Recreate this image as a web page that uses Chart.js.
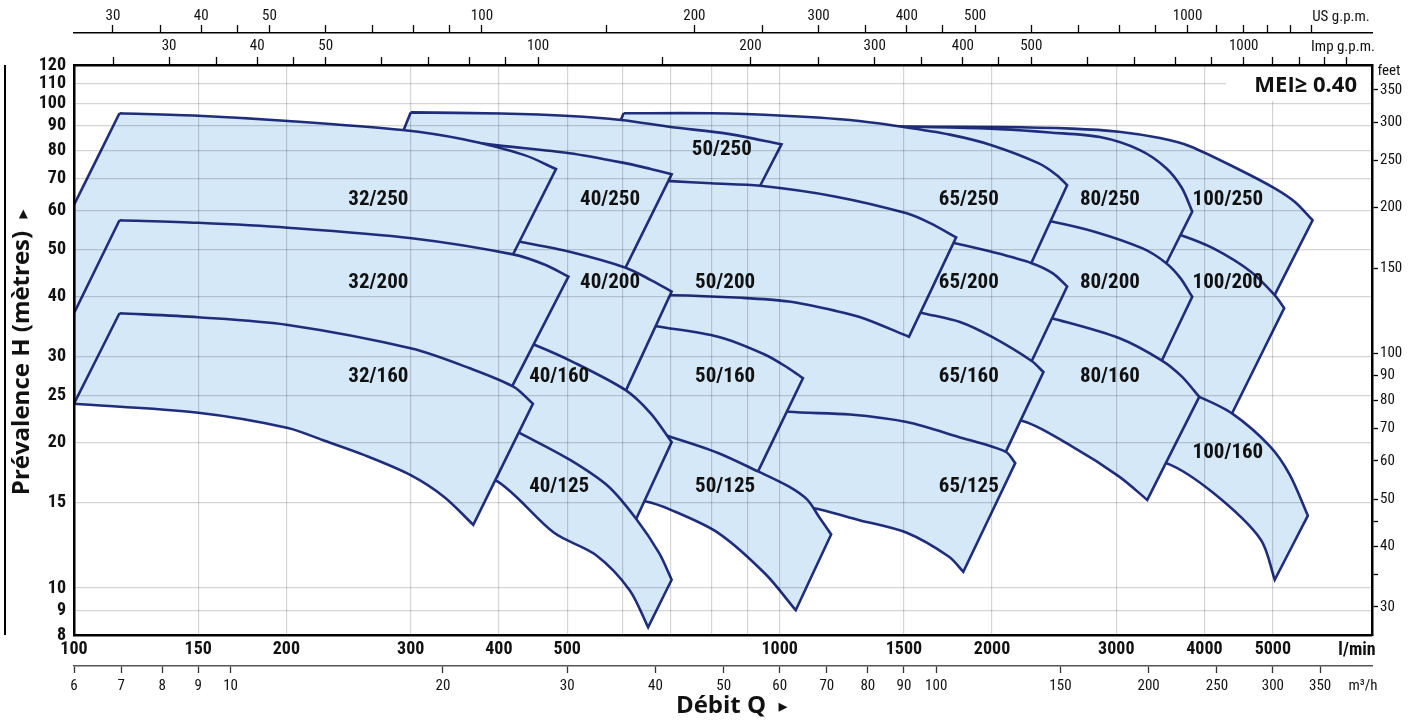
<!DOCTYPE html>
<html>
<head>
<meta charset="utf-8">
<script src="https://cdn.jsdelivr.net/npm/chart.js@4.4.1/dist/chart.umd.min.js"></script>
<style>
  html, body { margin: 0; padding: 0; background: #fff; }
  #wrap { width: 1422px; height: 724px; position: relative; }
</style>
</head>
<body>
<div id="wrap"><canvas id="pumpChart"></canvas></div>
<script>
// flow Q in l/min, head H in metres
const FLOW_MIN = 100, FLOW_MAX = 6910;
const HEAD_MIN = 8, HEAD_MAX = 120;

const flowTicks = [100, 150, 200, 300, 400, 500, 600, 700, 800, 900, 1000, 1500, 2000, 3000, 4000, 5000];
const flowLabels = [100, 150, 200, 300, 400, 500, 1000, 1500, 2000, 3000, 4000, 5000];
const headTicks = [8, 9, 10, 15, 20, 25, 30, 40, 50, 60, 70, 80, 90, 100, 110, 120];
const usGpmTicks = [30, 35, 40, 45, 50, 60, 70, 80, 90, 100, 150, 200, 250, 300, 350, 400, 450, 500, 600, 700, 800, 900, 1000, 1100, 1200, 1300, 1400, 1500];
const impGpmTicks = [25, 30, 35, 40, 45, 50, 60, 70, 80, 90, 100, 150, 200, 250, 300, 350, 400, 450, 500, 600, 700, 800, 900, 1000, 1100, 1200, 1300, 1400];
const gpmLabels = [30, 40, 50, 100, 200, 300, 400, 500, 1000];
const m3hTicks = [6, 7, 8, 9, 10, 20, 30, 40, 50, 60, 70, 80, 90, 100, 150, 200, 250, 300, 350];
const feetTicks = [30, 35, 40, 45, 50, 60, 70, 80, 90, 100, 150, 200, 250, 300, 350];
const feetLabels = [30, 40, 50, 60, 70, 80, 90, 100, 150, 200, 250, 300, 350];

// each pump: max impeller curve and min impeller curve, [Q, H], left to right
const max32_160 = [[116,36.9],[150,36.2],[201,34.9],[301,31.2],[364,28.4],[420,26.0],[447,24.0]];
const min32_160 = [[100,24.0],[150,23.0],[201,21.4],[225,20.2],[258,18.8],[300,17.1],[335,15.4],[368,13.5]];
const max32_200 = [[116,57.4],[150,56.7],[201,55.4],[301,52.7],[419,48.8],[466,46.4],[502,43.9]];
const min32_200 = [[100,24.0],[150,23.9],[201,22.0],[300,18.8],[363,17.5]];
const max32_250 = [[116,95.4],[150,94.3],[201,92.0],[292,88.1],[356,84.3],[435,78.2],[482,73.2]];
const min32_250 = [[100,36.9],[150,36.1],[201,34.7],[301,32.8],[364,32.5]];
// where the left edge meets the Q = 100 border
const edge32_200 = [[100,36.9]];
const edge32_250 = [[100,61.7]];

const max40_125 = [[376,23.1],[428,20.9],[504,18.4],[572,16.2],[626,13.9],[675,11.8],[703,10.4]];
const min40_125 = [[342,17.5],[398,16.6],[479,13.0],[549,11.7],[613,9.9],[651,8.3]];
const max40_160 = [[429,32.5],[451,31.7],[504,29.5],[605,25.6],[657,22.9],[703,20.0]];
const min40_160 = [[364,20.2],[401,17.5],[488,15.2],[604,12.4]];
const max40_200 = [[389,53.2],[429,51.8],[504,49.4],[605,45.8],[657,43.2],[703,40.9]];
const min40_200 = [[312,28.2],[429,26.9],[488,24.4],[579,22.2]];
const max40_250 = [[355,83.6],[401,81.8],[504,78.9],[606,75.2],[655,73.3],[703,71.4]];
const min40_250 = [[292,47.1],[341,46.4],[429,44.2],[574,39.3]];

const max50_125 = [[655,21.0],[701,20.5],[818,19.0],[932,17.4],[1030,16.2],[1095,15.2],[1138,14.0],[1183,12.9]];
const min50_125 = [[586,15.2],[644,15.1],[701,14.5],[818,13.0],[954,10.7],[1054,9.0]];
const max50_160 = [[634,35.2],[669,34.7],[818,33.0],[954,30.3],[1030,28.4],[1079,27.1]];
const min50_160 = [[500,17.5],[655,17.5],[771,16.6],[893,15.3]];
const max50_200 = [[634,69.5],[701,69.1],[800,68.4],[939,67.6],[1202,64.2],[1514,59.3],[1634,56.6],[1779,52.9]];
const min50_200 = [[526,40.2],[706,40.2],[883,39.7],[1030,39.0],[1202,37.3],[1317,36.0],[1525,33.0]];
const max50_250 = [[300,95.8],[403,95.3],[504,94.2],[596,92.4],[701,89.4],[850,86.4],[1006,82.3]];
const min50_250 = [[271,66.2],[401,65.6],[556,63.2],[722,61.7],[893,58.8]];

const max65_125 = [[969,23.5],[1030,23.1],[1258,22.8],[1514,22.0],[1793,20.5],[2092,19.1],[2157,18.1]];
const min65_125 = [[834,15.2],[1095,14.7],[1298,13.8],[1514,13.0],[1738,11.6],[1821,10.8]];
const max65_160 = [[634,42.4],[771,42.3],[883,42.0],[1068,41.2],[1317,39.7],[1585,37.0],[1801,35.4],[1997,33.0],[2276,29.4],[2365,27.9]];
const min65_160 = [[491,20.2],[771,20.2],[1140,20.2],[1481,19.3],[2018,17.1]];
const max65_200 = [[634,59.7],[771,58.8],[1001,57.4],[1258,55.8],[1514,54.0],[1779,51.4],[1997,49.4],[2276,46.8],[2439,44.6],[2555,41.9]];
const min65_200 = [[523,34.1],[771,31.7],[1258,30.3],[1743,28.2],[2190,26.1]];
const max65_250 = [[601,95.4],[800,95.4],[1014,94.3],[1258,92.4],[1490,89.5],[1743,86.2],[1997,82.0],[2330,75.2],[2471,71.1],[2555,67.8]];
const min65_250 = [[499,49.8],[771,48.6],[1258,47.5],[1743,45.3],[2190,41.6]];

const max80_160 = [[1801,39.7],[2052,38.4],[2439,36.0],[3026,32.8],[3477,29.5],[3716,27.3],[3932,24.8]];
const min80_160 = [[1500,23.3],[2190,22.2],[2595,19.6],[3025,17.0],[3319,15.2]];
const max80_200 = [[1743,61.4],[2052,59.7],[2439,57.0],[2802,54.3],[3269,50.2],[3531,46.8],[3698,43.6],[3843,39.9]];
const min80_200 = [[1495,39.3],[2052,35.7],[2844,31.0],[3370,26.7]];
const max80_250 = [[1258,88.9],[1490,89.5],[1743,89.2],[2052,88.5],[2415,87.1],[2844,85.2],[3240,80.1],[3531,73.5],[3716,66.9],[3843,59.8]];
const min80_250 = [[1100,60.2],[1743,58.8],[2415,53.5],[3035,47.1],[3403,42.0]];

const max100_160 = [[3348,27.1],[3932,24.8],[4381,22.9],[4954,19.6],[5287,17.1],[5605,14.1]];
const min100_160 = [[2952,18.8],[3531,18.1],[4119,15.7],[4805,12.6],[5031,10.4]];
const max100_200 = [[2844,58.0],[3348,55.8],[3698,53.5],[4119,50.2],[4659,44.9],[5031,40.2],[5189,37.8]];
const min100_200 = [[2330,32.5],[2844,27.9],[3692,22.8],[4234,20.8]];
const max100_250 = [[1300,89.4],[1490,89.5],[2052,89.4],[2595,88.7],[3026,87.4],[3459,84.8],[3813,81.6],[4448,73.4],[5031,66.8],[5374,62.6],[5692,57.4]];
const min100_250 = [[1154,63.2],[2052,63.2],[2844,58.8],[3692,49.8],[4347,43.2],[4825,35.7]];

// first one is drawn on top
const pumpNames = ['32/160','32/200','32/250','40/125','40/160','40/200','40/250','50/125','50/160','50/200','50/250',
                   '65/125','65/160','65/200','65/250','80/160','80/200','80/250','100/160','100/200','100/250'];
const maxCurves = [max32_160, max32_200, max32_250, max40_125, max40_160, max40_200, max40_250,
                   max50_125, max50_160, max50_200, max50_250, max65_125, max65_160, max65_200, max65_250,
                   max80_160, max80_200, max80_250, max100_160, max100_200, max100_250];
const minCurves = [min32_160, min32_200, min32_250, min40_125, min40_160, min40_200, min40_250,
                   min50_125, min50_160, min50_200, min50_250, min65_125, min65_160, min65_200, min65_250,
                   min80_160, min80_200, min80_250, min100_160, min100_200, min100_250];
const leftEdges = [[], edge32_200, edge32_250];
const labelAnchors = [[270,27.3],[270,42.6],[270,63.2],[487,16.2],[487,27.3],[575,42.6],[575,63.2],[837,16.2],[837,27.3],[837,42.6],[828,80.1],
                      [1854,16.2],[1854,27.3],[1854,42.6],[1854,63.2],[2938,27.3],[2938,42.6],[2938,63.2],[4318,19.0],[4318,42.6],[4318,63.2]];

const NAVY = '#1f2d7b';
const FILL = '#d4e8f7';
const GRID = 'rgba(0,0,0,0.17)';
const COND = "Roboto, 'DejaVu Sans', sans-serif";
const WIDE = "'Open Sans', 'DejaVu Sans', sans-serif";

function fixedTicks(values) {
  return (scale) => { scale.ticks = values.map(v => ({ value: v })); };
}
function labelOnly(list) {
  return (v) => list.includes(v) ? String(v) : '';
}
function fixedSize(prop, px) {
  return (scale) => { scale[prop] = px; };
}
// closed outline; corners repeated so the spline keeps them sharp
function outline(maxCurve, minCurve, edge) {
  const back = minCurve.slice().reverse();
  const first = maxCurve[0], tr = maxCurve[maxCurve.length - 1];
  const pts = [first, ...maxCurve, tr, back[0], ...back, back[back.length - 1]];
  (edge || []).forEach(p => pts.push(p, p));
  pts.push(first, first);
  return pts.map(p => ({ x: p[0], y: p[1] }));
}

const decorations = {
  id: 'decorations',
  afterDraw(chart) {
    const { ctx, chartArea: area, scales } = chart;
    ctx.save();

    ctx.fillStyle = '#000';
    ctx.fillRect(4, Math.round(area.top), 2, Math.round(area.bottom - area.top));

    ctx.fillStyle = '#111';
    ctx.textAlign = 'center';
    ctx.textBaseline = 'middle';
    ctx.font = 'bold condensed 21px ' + COND;
    pumpNames.forEach((name, i) => {
      const [q, h] = labelAnchors[i];
      ctx.fillText(name, scales.x.getPixelForValue(q), scales.y.getPixelForValue(h));
    });

    // MEI badge
    ctx.fillStyle = '#fff';
    ctx.fillRect(area.right - 146, area.top + 2, 144, 34);
    ctx.fillStyle = '#111';
    ctx.textAlign = 'right';
    ctx.font = 'bold 22px ' + WIDE;
    ctx.fillText('MEI\u2265 0.40', area.right - 15, area.top + 21);

    // unit names
    ctx.textAlign = 'center';
    ctx.font = 'condensed 15px ' + COND;
    ctx.fillText('US g.p.m.', 1341, 17);
    ctx.fillText('Imp g.p.m.', 1343, 47);
    ctx.fillText('m\u00b3/h', 1363, 686);
    ctx.fillText('feet', 1389, 71);
    ctx.font = 'bold condensed 18px ' + COND;
    ctx.fillText('l/min', 1357, 650);

    // axis titles
    ctx.font = 'bold 24px ' + WIDE;
    ctx.fillText('Débit Q', 721, 706);
    ctx.font = '18px "DejaVu Sans"';
    ctx.fillText('\u25b8', 783, 707);

    ctx.translate(22, 363);
    ctx.rotate(-Math.PI / 2);
    ctx.font = 'bold 24px ' + WIDE;
    ctx.fillText('Prévalence H (mètres)', 0, 0);
    ctx.font = '18px "DejaVu Sans"';
    ctx.fillText('\u25b8', 149, 1);

    ctx.restore();
  }
};

const datasets = maxCurves.map((maxCurve, i) => ({
  label: pumpNames[i],
  data: outline(maxCurve, minCurves[i], leftEdges[i]),
  borderColor: NAVY,
  backgroundColor: FILL,
  borderWidth: 2.6,
  borderJoinStyle: 'miter',
  fill: 'shape',
  pointRadius: 0,
  tension: 0.3
}));

const boldTickFont = { family: COND, size: 18, weight: 'bold condensed' };
const smallTickFont = { family: COND, size: 15, weight: 'condensed' };

new Chart(document.getElementById('pumpChart'), {
  type: 'line',
  data: { datasets },
  options: {
    responsive: true,
    maintainAspectRatio: false,
    animation: false,
    layout: { padding: 0 },
    plugins: { legend: { display: false }, tooltip: { enabled: false } },
    scales: {
      x: {
        type: 'logarithmic', position: 'bottom', weight: 1,
        min: FLOW_MIN, max: FLOW_MAX, bounds: 'data',
        afterBuildTicks: fixedTicks(flowTicks),
        afterFit: fixedSize('height', 31),
        ticks: { callback: labelOnly(flowLabels), autoSkip: false, maxRotation: 0, padding: 4,
                 color: '#111', font: boldTickFont },
        grid: { z: 1, drawTicks: false, lineWidth: 1.2,
                color: (c) => c.tick && c.tick.value === FLOW_MIN ? 'rgba(0,0,0,0)' : GRID },
        border: { color: '#000', width: 2.5, z: 2 }
      },
      xM3: {
        type: 'logarithmic', position: 'bottom', weight: 2,
        min: FLOW_MIN * 0.06, max: FLOW_MAX * 0.06, bounds: 'data',
        afterBuildTicks: fixedTicks(m3hTicks),
        afterFit: fixedSize('height', 58),
        ticks: { callback: (v) => String(v), autoSkip: false, maxRotation: 0, padding: 4,
                 color: '#111', font: smallTickFont },
        grid: { drawOnChartArea: false, tickLength: 7, tickColor: '#333', tickWidth: 1.3 },
        border: { color: '#555', width: 1.5 }
      },
      xImp: {
        type: 'logarithmic', position: 'top', weight: 1,
        min: FLOW_MIN / 4.54609, max: FLOW_MAX / 4.54609, bounds: 'data',
        afterBuildTicks: fixedTicks(impGpmTicks),
        afterFit: fixedSize('height', 32),
        ticks: { callback: labelOnly(gpmLabels), autoSkip: false, maxRotation: 0, padding: 1.5,
                 color: '#111', font: smallTickFont },
        grid: { drawOnChartArea: false, tickLength: 8, tickColor: '#000', tickWidth: 1.3 },
        border: { color: '#000', width: 2.5 }
      },
      xUS: {
        type: 'logarithmic', position: 'top', weight: 2,
        min: FLOW_MIN / 3.78541, max: FLOW_MAX / 3.78541, bounds: 'data',
        afterBuildTicks: fixedTicks(usGpmTicks),
        afterFit: fixedSize('height', 33),
        ticks: { callback: labelOnly(gpmLabels), autoSkip: false, maxRotation: 0, padding: 0,
                 color: '#111', font: smallTickFont },
        grid: { drawOnChartArea: false, tickLength: 8, tickColor: '#000', tickWidth: 1.3 },
        border: { color: '#000', width: 1.5 }
      },
      y: {
        type: 'logarithmic', position: 'left',
        min: HEAD_MIN, max: HEAD_MAX, bounds: 'data',
        afterBuildTicks: fixedTicks(headTicks),
        afterFit: fixedSize('width', 74),
        ticks: { callback: (v) => String(v), autoSkip: false, padding: 8,
                 color: '#111', font: boldTickFont },
        grid: { z: 1, drawTicks: false, lineWidth: 1.2,
                color: (c) => c.tick && (c.tick.value === HEAD_MIN || c.tick.value === HEAD_MAX) ? 'rgba(0,0,0,0)' : GRID },
        border: { color: '#000', width: 2.5, z: 2 }
      },
      yFt: {
        type: 'logarithmic', position: 'right',
        min: HEAD_MIN / 0.3048, max: HEAD_MAX / 0.3048, bounds: 'data',
        afterBuildTicks: fixedTicks(feetTicks),
        afterFit: fixedSize('width', 50),
        ticks: { callback: labelOnly(feetLabels), autoSkip: false, padding: 2,
                 color: '#111', font: smallTickFont },
        grid: { drawOnChartArea: false, tickLength: 6, tickColor: '#000', tickWidth: 1.3 },
        border: { color: '#000', width: 2.5 }
      }
    }
  },
  plugins: [decorations]
});
</script>
</body>
</html>
